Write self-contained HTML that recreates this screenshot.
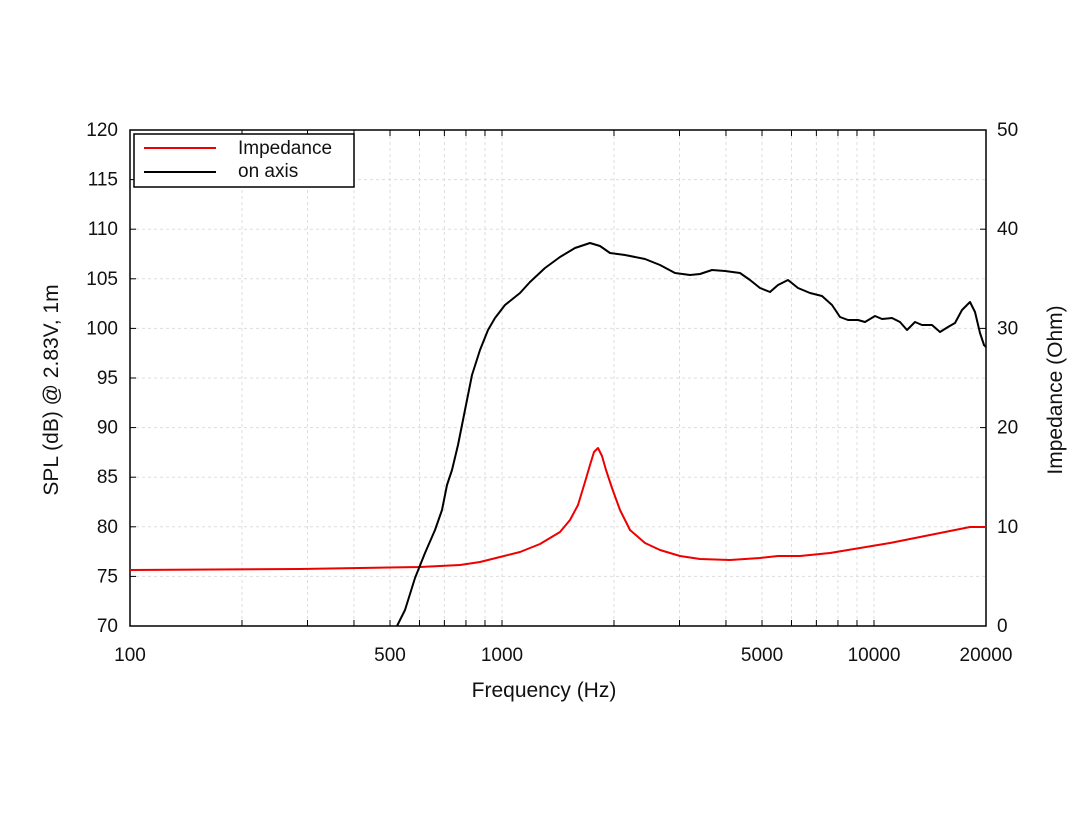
<!DOCTYPE html>
<html><head><meta charset="utf-8"><style>body{margin:0;background:#fff}svg{display:block}text{font-family:"Liberation Sans","DejaVu Sans",sans-serif;font-size:19px;fill:#111}</style></head><body>
<svg width="1085" height="814" xmlns="http://www.w3.org/2000/svg">
<g id="grid" stroke="#ddd" stroke-width="1" stroke-dasharray="3,3"></g>
<rect x="130" y="130" width="856" height="496" fill="none" stroke="#000" stroke-width="1.5"/>
<g id="ticks" stroke="#000" stroke-width="1"></g>
<g id="labels"></g>
<polyline fill="none" stroke="#e00" stroke-width="2" stroke-linejoin="round" points="130,570 300,569 420,567 460,565 480,562 500,557 520,552 540,544 560,532 570,520 578,505 585,482 590,465 594,452 598,448 602,456 606,470 612,488 620,510 630,530 645,543 660,550 680,556 700,559 730,560 760,558 778,556 800,556 830,553 860,548 890,543 920,537 950,531 970,527 986,527"/>
<polyline fill="none" stroke="#000" stroke-width="2" stroke-linejoin="round" points="397,626 405,610 415,578 425,553 435,530 442,510 447,485 452,470 458,445 465,410 472,375 480,350 488,330 495,318 505,305 520,293 530,282 545,268 560,257 575,248 590,243 600,246 610,253 625,255 645,259 660,265 675,273 690,275 700,274 712,270 725,271 740,273 750,280 760,288 770,292 778,285 788,280 798,288 810,293 822,296 832,305 840,317 848,320 858,320 865,322 875,316 882,319 892,318 900,322 907,330 915,322 922,325 932,325 940,332 948,327 955,323 962,310 970,302 975,312 980,333 984,345 986,347"/>
<rect x="134" y="134" width="220" height="53" fill="#fff" stroke="#000" stroke-width="1.5"/>
<line x1="144" y1="148" x2="216" y2="148" stroke="#e00" stroke-width="2"/>
<line x1="144" y1="172" x2="216" y2="172" stroke="#000" stroke-width="2"/>
<text x="238" y="154">Impedance</text>
<text x="238" y="177">on axis</text>
<text x="544" y="697" text-anchor="middle" style="font-size:21px">Frequency (Hz)</text>
<text transform="translate(58,390) rotate(-90)" text-anchor="middle" style="font-size:21px">SPL (dB) @ 2.83V, 1m</text>
<text transform="translate(1062,390) rotate(-90)" text-anchor="middle" style="font-size:21px">Impedance (Ohm)</text>
<script>
var ns="http://www.w3.org/2000/svg",g=document.getElementById("grid"),t=document.getElementById("ticks"),L=document.getElementById("labels");
function ln(p,a,b,c,d){var e=document.createElementNS(ns,"line");e.setAttribute("x1",a);e.setAttribute("y1",b);e.setAttribute("x2",c);e.setAttribute("y2",d);p.appendChild(e);}
function tx(s,x,y,a){var e=document.createElementNS(ns,"text");e.setAttribute("x",x);e.setAttribute("y",y);e.setAttribute("text-anchor",a);e.textContent=s;L.appendChild(e);}
function X(f){return 130+372.0*Math.log10(f/100);}
for(var d=100;d<20000;d*=10)for(var k=1;k<10;k++){var f=d*k;if(f>20000)break;var x=X(f);if(f>100&&f<20000)ln(g,x,130,x,626);ln(t,x,626,x,620);ln(t,x,130,x,136);}
[[100,"100"],[500,"500"],[1000,"1000"],[5000,"5000"],[10000,"10000"],[20000,"20000"]].forEach(function(a){tx(a[1],X(a[0]),661,"middle");});
for(var v=70;v<=120;v+=5){var y=626-(v-70)*9.92;if(v>70&&v<120)ln(g,130,y,986,y);ln(t,130,y,136,y);tx(v,118,y+6,"end");}
for(var v=0;v<=50;v+=10){var y=626-v*9.92;ln(t,986,y,980,y);tx(v,997,y+6,"start");}
</script>
</svg></body></html>
